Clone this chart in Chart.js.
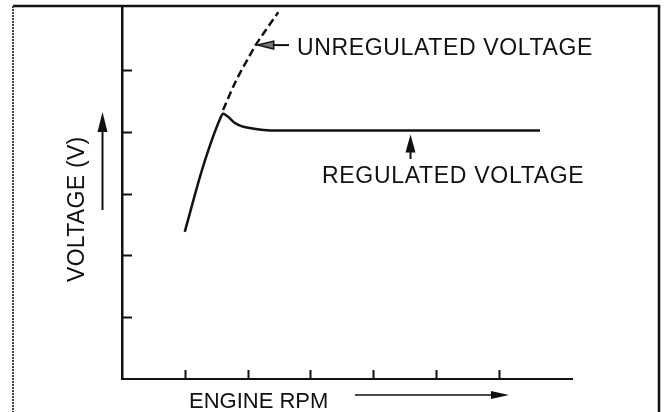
<!DOCTYPE html>
<html>
<head>
<meta charset="utf-8">
<title>Voltage vs Engine RPM</title>
<script src="https://cdn.jsdelivr.net/npm/chart.js@4.4.1/dist/chart.umd.min.js"></script>
<style>
  html, body { margin: 0; padding: 0; background: #fff; }
  #wrap { width: 665px; height: 412px; }
</style>
</head>
<body>
<div id="wrap"><canvas id="voltChart" width="665" height="412"></canvas></div>
<script>
// engine rpm is in tick units (tick 1..6), voltage in tick units (tick 1..5)
const regRpm = [1.0, 1.29, 1.56, 1.61, 1.69, 1.80, 1.90, 2.09, 2.36, 4.0, 6.66];
const regVolts = [2.38, 3.43, 4.20, 4.29, 4.24, 4.14, 4.09, 4.05, 4.02, 4.02, 4.02];
const unregRpm = [1.61, 1.82, 1.99, 2.13, 2.29, 2.49];
const unregVolts = [4.35, 4.83, 5.15, 5.40, 5.64, 5.93];
const xTicks = [1, 2, 3, 4, 5, 6];
const yTicks = [1, 2, 3, 4, 5];

const FAMILY = '"Liberation Sans", Arial, Helvetica, sans-serif';
const INK = '#111';

function toPoints(xs, ys) {
  return xs.map((x, i) => ({x: x, y: ys[i]}));
}

function arrowHead(ctx, tipX, tipY, dir, len, half, hollow) {
  // dir: unit vector pointing toward the tip
  const bx = tipX - dir[0] * len;
  const by = tipY - dir[1] * len;
  ctx.beginPath();
  ctx.moveTo(tipX, tipY);
  ctx.lineTo(bx - dir[1] * half, by + dir[0] * half);
  ctx.lineTo(bx + dir[1] * half, by - dir[0] * half);
  ctx.closePath();
  if (hollow) {
    ctx.fillStyle = '#777';
    ctx.fill();
    ctx.stroke();
  } else {
    ctx.fill();
  }
}

function label(ctx, text, x, y, size, spacing) {
  ctx.font = size + 'px ' + FAMILY;
  ctx.letterSpacing = spacing + 'px';
  ctx.fillText(text, x, y);
  ctx.letterSpacing = '0px';
}

// inward tick marks, frame, labels and pointer arrows
const decorations = {
  id: 'decorations',
  afterDraw(chart) {
    const {ctx} = chart;
    const xs = chart.scales.x;
    const ys = chart.scales.y;
    const left = xs.left;
    const bottom = ys.bottom;

    ctx.save();
    ctx.strokeStyle = INK;
    ctx.fillStyle = INK;

    // ticks pointing into the plot
    ctx.lineWidth = 2;
    xTicks.forEach((t) => {
      const px = Math.round(xs.getPixelForValue(t)) + 0.5;
      ctx.beginPath();
      ctx.moveTo(px, bottom);
      ctx.lineTo(px, bottom - 9);
      ctx.stroke();
    });
    yTicks.forEach((t) => {
      const py = Math.round(ys.getPixelForValue(t)) + 0.5;
      ctx.beginPath();
      ctx.moveTo(left, py);
      ctx.lineTo(left + 10, py);
      ctx.stroke();
    });

    // outer frame
    ctx.lineWidth = 2.5;
    ctx.beginPath();
    ctx.moveTo(13, 6);
    ctx.lineTo(659, 6);
    ctx.lineTo(659, 412);
    ctx.stroke();
    ctx.strokeStyle = '#444';
    ctx.lineWidth = 2;
    ctx.setLineDash([2, 1]);
    ctx.beginPath();
    ctx.moveTo(13, 6);
    ctx.lineTo(13, 412);
    ctx.stroke();
    ctx.setLineDash([]);
    ctx.strokeStyle = INK;

    // text
    ctx.textBaseline = 'alphabetic';
    ctx.textAlign = 'left';
    label(ctx, 'UNREGULATED VOLTAGE', 297, 55, 23, 0.65);
    label(ctx, 'REGULATED VOLTAGE', 322, 183, 23, 0.7);
    label(ctx, 'ENGINE RPM', 189, 408, 22, 0);

    ctx.save();
    ctx.translate(84, 282);
    ctx.rotate(-Math.PI / 2);
    label(ctx, 'VOLTAGE (V)', 0, 0, 23, 0.3);
    ctx.restore();

    // axis direction arrows
    ctx.lineWidth = 2;
    ctx.beginPath();
    ctx.moveTo(102.5, 210);
    ctx.lineTo(102.5, 128);
    ctx.stroke();
    arrowHead(ctx, 102.5, 112, [0, -1], 20, 5, false);

    ctx.lineWidth = 1.5;
    ctx.beginPath();
    ctx.moveTo(355, 395);
    ctx.lineTo(494, 395);
    ctx.stroke();
    arrowHead(ctx, 509, 395, [1, 0], 18, 4, false);

    // pointer to the unregulated curve
    const ux = xs.getPixelForValue(unregRpm[3]) + 2;
    const uy = ys.getPixelForValue(unregVolts[3]);
    ctx.lineWidth = 2;
    ctx.beginPath();
    ctx.moveTo(289, uy);
    ctx.lineTo(ux + 14, uy);
    ctx.stroke();
    ctx.lineWidth = 1.5;
    arrowHead(ctx, ux, uy, [-1, 0], 16, 4, true);

    // pointer to the regulated curve
    const rx = Math.round(xs.getPixelForValue(4.59)) + 0.5;
    const ry = ys.getPixelForValue(regVolts[regVolts.length - 1]) + 4;
    ctx.lineWidth = 2;
    ctx.fillStyle = INK;
    ctx.beginPath();
    ctx.moveTo(rx, 159);
    ctx.lineTo(rx, ry + 14);
    ctx.stroke();
    arrowHead(ctx, rx, ry, [0, -1], 18, 5, false);

    ctx.restore();
  },
};

const config = {
  type: 'line',
  data: {
    datasets: [
      {
        label: 'Regulated voltage',
        data: toPoints(regRpm, regVolts),
        borderColor: INK,
        borderWidth: 2.5,
        pointRadius: 0,
        cubicInterpolationMode: 'monotone',
        fill: false,
      },
      {
        label: 'Unregulated voltage',
        data: toPoints(unregRpm, unregVolts),
        borderColor: INK,
        borderWidth: 2.5,
        borderDash: [8, 4],
        pointRadius: 0,
        cubicInterpolationMode: 'monotone',
        fill: false,
      },
    ],
  },
  options: {
    responsive: false,
    animation: false,
    events: [],
    layout: {
      padding: {left: 122, right: 93, top: 8, bottom: 33},
    },
    plugins: {
      legend: {display: false},
      tooltip: {enabled: false},
    },
    scales: {
      x: {
        type: 'linear',
        min: 0,
        max: 7.17,
        ticks: {display: false},
        grid: {display: false, drawTicks: false},
        border: {display: true, color: INK, width: 2},
      },
      y: {
        type: 'linear',
        min: 0,
        max: 6,
        ticks: {display: false},
        grid: {display: false, drawTicks: false},
        border: {display: true, color: INK, width: 2.5},
      },
    },
  },
  plugins: [decorations],
};

new Chart(document.getElementById('voltChart').getContext('2d'), config);
</script>
</body>
</html>
